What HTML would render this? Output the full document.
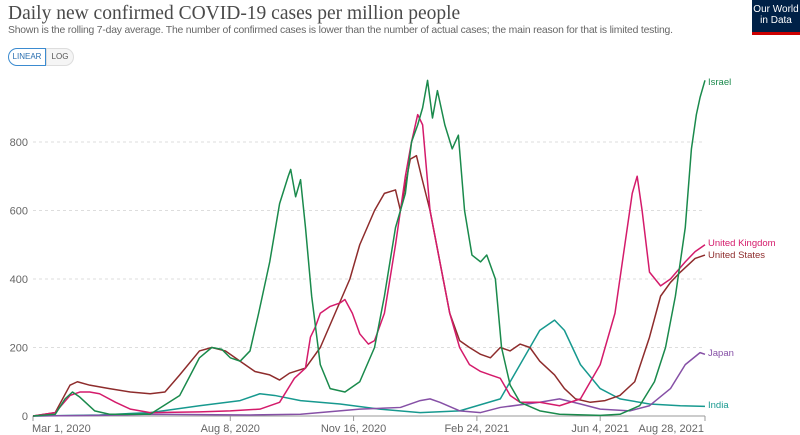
<!DOCTYPE html>
<html><head><meta charset="utf-8"><style>
body{margin:0;width:800px;height:435px;background:#fff;overflow:hidden;font-family:"Liberation Sans",sans-serif;position:relative}
.t{position:absolute;left:8px;top:3px;font-family:"Liberation Serif",serif;font-size:19.5px;color:#4a4a4a}
.s{position:absolute;left:8px;top:25px;font-size:10.4px;color:#666;letter-spacing:-0.2px}
.logo{position:absolute;left:752px;top:0;width:48px;height:35px;background:#002147;color:#fff;font-size:10px;line-height:11px;text-align:center;padding-top:4px;box-sizing:border-box;border-bottom:3px solid #c00}
.btn{position:absolute;top:48px;height:16px;font-size:8px;line-height:16px;color:#555;border:1px solid #ddd;background:#f5f5f5}
</style></head><body>
<div class="t">Daily new confirmed COVID-19 cases per million people</div>
<div class="s">Shown is the rolling 7-day average. The number of confirmed cases is lower than the number of actual cases; the main reason for that is limited testing.</div>
<div class="logo">Our World<br>in Data</div>
<div class="btn" style="left:8px;width:36px;text-align:center;border:1px solid #3b8bd0;color:#2a6fb0;background:#fff;border-radius:9px 0 0 9px">LINEAR</div>
<div class="btn" style="left:46px;width:26px;text-align:center;border-radius:0 9px 9px 0">LOG</div>
<svg id="c" width="800" height="435" style="position:absolute;left:0;top:0"></svg>
<script>
const yTicks=[0,200,400,600,800];
const xTickDays=[0,160,260,360,460,545];
const xTickLabels=["Mar 1, 2020","Aug 8, 2020","Nov 16, 2020","Feb 24, 2021","Jun 4, 2021","Aug 28, 2021"];
const seriesNames=["Israel","United Kingdom","United States","Japan","India"];
const israelDays=[0,18,26,32,38,50,62,95,119,135,145,153,160,168,176,183,192,200,207,209,213,217,221,226,233,241,253,265,277,285,294,302,307,312,316,320,324,328,334,340,345,350,356,363,368,375,380,387,395,411,427,460,476,492,504,513,521,529,534,538,541,545];
const israelVals=[0,5,50,70,55,15,5,5,60,170,200,195,170,160,190,300,450,620,700,720,640,690,550,350,150,80,70,100,200,350,550,650,800,850,900,980,870,950,850,780,820,600,470,450,470,400,200,90,40,15,5,2,5,30,100,200,350,550,780,880,930,980];
const ukDays=[0,18,30,38,46,54,67,79,95,135,160,184,200,212,221,225,229,233,241,249,253,259,265,272,277,285,294,302,307,312,316,322,330,338,346,354,363,371,379,387,395,411,427,444,460,472,480,486,490,494,500,509,517,529,537,545];
const ukVals=[0,10,60,70,70,65,40,20,10,12,15,20,40,110,140,230,260,300,320,330,340,300,240,210,220,300,500,700,800,880,850,600,450,300,200,150,130,120,110,60,40,40,30,50,150,300,500,650,700,600,420,380,400,450,480,500];
const usDays=[0,18,30,36,46,62,79,95,107,119,135,145,156,168,180,192,200,208,221,233,245,257,265,277,285,294,298,306,311,315,322,330,338,346,354,363,371,379,387,395,403,411,423,431,440,452,464,476,488,500,509,517,525,537,545];
const usVals=[0,10,90,100,90,80,70,65,70,120,190,200,190,160,130,120,105,125,140,200,300,400,500,600,650,660,600,750,760,700,600,450,300,220,200,180,170,200,190,210,200,160,120,80,50,40,45,60,100,230,350,390,420,460,470];
const indiaDays=[0,54,95,135,168,184,196,217,249,281,314,346,379,395,411,423,431,444,460,476,500,525,545];
const indiaVals=[0,3,10,30,45,65,60,45,35,20,10,15,50,150,250,280,250,150,80,50,35,30,28];
const japanDays=[0,54,95,176,217,265,298,314,322,330,346,363,379,411,427,444,460,484,500,517,529,541,545];
const japanVals=[0,2,5,3,5,20,25,45,50,40,15,10,25,40,50,35,20,15,30,80,150,185,180];
const colors={Israel:"#1a8a4c","United Kingdom":"#d41b6b","United States":"#8e2c2c",Japan:"#8650a6",India:"#17998f"};
const svg=document.getElementById('c');const NS="http://www.w3.org/2000/svg";
const X=d=>33+d*1.233, Y=v=>416-v*0.3425;
function mk(t,a){const e=document.createElementNS(NS,t);for(const k in a)e.setAttribute(k,a[k]);svg.appendChild(e);return e;}
yTicks.forEach(v=>{
 const l=mk('line',{x1:33,x2:705,y1:Y(v),y2:Y(v),stroke:v?'#ddd':'#999','stroke-dasharray':v?'3,3':'none'});
 
 
 const t=mk('text',{x:28,y:Y(v)+4,'text-anchor':'end','font-size':11,fill:'#666'});t.textContent=v;
 
 
});
xTickDays.forEach((d,i)=>{
 const l=mk('line',{x1:X(d),x2:X(d),y1:416,y2:421,stroke:'#999'});
 
 
 const t=mk('text',{x:i==0?X(d)-1:(i==5?X(d)-1:X(d)),y:432,'text-anchor':i==0?'start':(i==5?'end':'middle'),'font-size':11,fill:'#666'});t.textContent=xTickLabels[i];
 
 
});
const data={Israel:[israelDays,israelVals],"United Kingdom":[ukDays,ukVals],"United States":[usDays,usVals],Japan:[japanDays,japanVals],India:[indiaDays,indiaVals]};
const labelY={Israel:85,"United Kingdom":246,"United States":258,Japan:356,India:408};
["India","Japan","United States","United Kingdom","Israel"].forEach(n=>{
 const [d,v]=data[n];
 const p=mk('polyline',{points:d.map((x,i)=>X(x)+','+Y(v[i])).join(' '),fill:'none',stroke:colors[n],'stroke-width':1.5,'stroke-linejoin':'round'});
 
 
 const t=mk('text',{x:708,y:labelY[n],'font-size':9.5,fill:colors[n]});t.textContent=n;
 
 
});
</script>
</body></html>
